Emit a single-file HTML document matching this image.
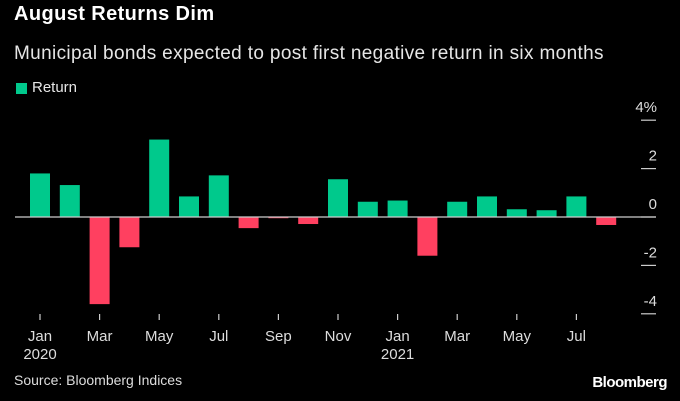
<!DOCTYPE html>
<html><head><meta charset="utf-8"><style>
body{margin:0;background:#000;width:680px;height:401px;overflow:hidden;font-family:"Liberation Sans","DejaVu Sans",sans-serif;color:#fff}
.t{position:absolute;white-space:nowrap}
</style></head><body>
<div class="t" style="left:14px;top:3px;font-size:20px;font-weight:bold;letter-spacing:0.4px">August Returns Dim</div>
<div class="t" style="left:14px;top:43px;font-size:19px;letter-spacing:0.35px;color:#e6e6e6">Municipal bonds expected to post first negative return in six months</div>
<div style="position:absolute;left:16px;top:83px;width:11px;height:11px;background:#00c98c"></div>
<div class="t" style="left:32px;top:79px;font-size:15px;color:#e6e6e6">Return</div>
<svg id="c" width="680" height="401" style="position:absolute;left:0;top:0"></svg>
<div class="t" style="left:14px;top:372px;font-size:14px;color:#ddd">Source: Bloomberg Indices</div>
<div class="t" style="right:13px;top:374px;font-size:15px;font-weight:bold;letter-spacing:-0.5px">Bloomberg</div>
<script>
const months=["Jan","Feb","Mar","Apr","May","Jun","Jul","Aug","Sep","Oct","Nov","Dec","Jan","Feb","Mar","Apr","May","Jun","Jul","Aug"];
const values=[1.8,1.32,-3.6,-1.25,3.2,0.85,1.72,-0.46,-0.05,-0.29,1.56,0.63,0.68,-1.6,0.63,0.85,0.32,0.28,0.85,-0.33];
const yTicks=[4,2,0,-2,-4];
const yTickLabels=["4%","2","0","-2","-4"];
const xLabelIdx=[0,2,4,6,8,10,12,14,16,18];
const years={0:"2020",12:"2021"};
const svg=document.getElementById('c');const NS="http://www.w3.org/2000/svg";
const x=i=>40+i*29.8, y=v=>217-v*24.2;
function mk(t,a){const e=document.createElementNS(NS,t);for(const k in a)e.setAttribute(k,a[k]);svg.appendChild(e);return e;}
values.forEach((v,i)=>{const r=mk('rect',{x:x(i)-10,y:Math.min(y(v),y(0)),width:20,height:Math.max(Math.abs(y(v)-y(0)),0.8),fill:v>=0?'#00c98c':'#ff4060'});

});
const ax=mk('line',{x1:15,x2:656,y1:y(0),y2:y(0),stroke:'#ccc','stroke-width':1.3});


yTicks.forEach((v,i)=>{const l=mk('line',{x1:641,x2:656,y1:y(v),y2:y(v),stroke:'#ccc','stroke-width':1.2});


const t=mk('text',{x:657,y:y(v)-8,fill:'#ddd','font-size':15,'text-anchor':'end'});t.textContent=yTickLabels[i];

});
xLabelIdx.forEach(i=>{const l=mk('line',{x1:x(i),x2:x(i),y1:314,y2:320,stroke:'#ccc','stroke-width':1.2});


const t=mk('text',{x:x(i),y:341,fill:'#ddd','font-size':15,'text-anchor':'middle'});t.textContent=months[i];


if(years[i]){const yt=mk('text',{x:x(i),y:359,fill:'#ddd','font-size':15,'text-anchor':'middle'});yt.textContent=years[i];

}});
</script>
</body></html>
